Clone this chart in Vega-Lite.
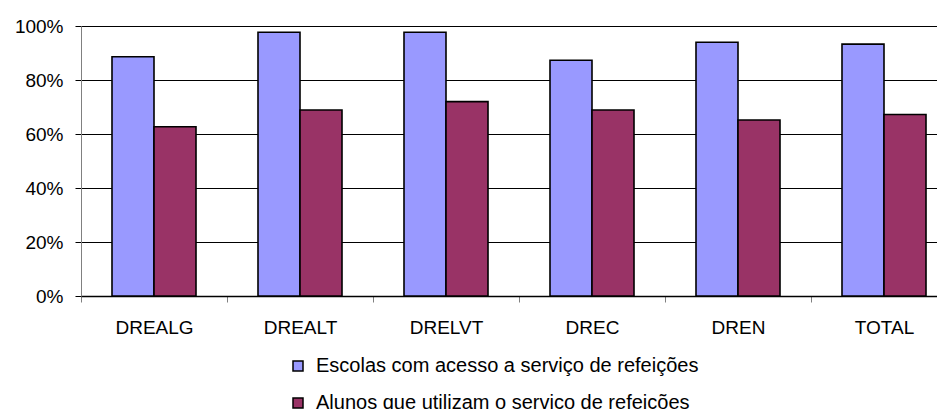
{
  "$schema": "https://vega.github.io/schema/vega-lite/v6.json",
  "autosize": {"type": "none"},
  "width": 856,
  "height": 270,
  "padding": {"left": 81, "top": 26, "right": 0, "bottom": 113},
  "config": {
    "view": {"stroke": null},
    "font": "Liberation Sans"
  },
  "data": {
    "values": [
      {"regiao": "DREALG", "serie": "Escolas com acesso a serviço de refeições", "valor": 0.886},
      {"regiao": "DREALG", "serie": "Alunos que utilizam o serviço de refeições", "valor": 0.627},
      {"regiao": "DREALT", "serie": "Escolas com acesso a serviço de refeições", "valor": 0.977},
      {"regiao": "DREALT", "serie": "Alunos que utilizam o serviço de refeições", "valor": 0.689},
      {"regiao": "DRELVT", "serie": "Escolas com acesso a serviço de refeições", "valor": 0.977},
      {"regiao": "DRELVT", "serie": "Alunos que utilizam o serviço de refeições", "valor": 0.72},
      {"regiao": "DREC", "serie": "Escolas com acesso a serviço de refeições", "valor": 0.873},
      {"regiao": "DREC", "serie": "Alunos que utilizam o serviço de refeições", "valor": 0.689},
      {"regiao": "DREN", "serie": "Escolas com acesso a serviço de refeições", "valor": 0.94},
      {"regiao": "DREN", "serie": "Alunos que utilizam o serviço de refeições", "valor": 0.652},
      {"regiao": "TOTAL", "serie": "Escolas com acesso a serviço de refeições", "valor": 0.933},
      {"regiao": "TOTAL", "serie": "Alunos que utilizam o serviço de refeições", "valor": 0.672}
    ]
  },
  "mark": {"type": "bar", "stroke": "black", "strokeWidth": 1.6},
  "encoding": {
    "x": {
      "field": "regiao",
      "type": "nominal",
      "sort": ["DREALG", "DREALT", "DRELVT", "DREC", "DREN", "TOTAL"],
      "scale": {"range": [0, 876], "paddingInner": 0, "paddingOuter": 0},
      "axis": {
        "title": null,
        "labelAngle": 0,
        "labelFontSize": 19,
        "labelColor": "black",
        "labelPadding": 16,
        "tickBand": "extent",
        "tickSize": 6,
        "tickColor": "#808080",
        "domainColor": "black",
        "domainWidth": 1.5,
        "grid": false
      }
    },
    "xOffset": {
      "field": "serie",
      "type": "nominal",
      "sort": ["Escolas com acesso a serviço de refeições", "Alunos que utilizam o serviço de refeições"],
      "scale": {"paddingInner": 0, "paddingOuter": 0.738}
    },
    "y": {
      "field": "valor",
      "type": "quantitative",
      "scale": {"domain": [0, 1]},
      "axis": {
        "title": null,
        "format": ".0%",
        "values": [0, 0.2, 0.4, 0.6, 0.8, 1],
        "labelFontSize": 19,
        "labelColor": "black",
        "labelPadding": 12,
        "tickSize": 6,
        "tickColor": "black",
        "domainColor": "#808080",
        "grid": true,
        "gridColor": "black",
        "gridOpacity": 1,
        "gridWidth": 1.2
      }
    },
    "color": {
      "field": "serie",
      "type": "nominal",
      "sort": ["Escolas com acesso a serviço de refeições", "Alunos que utilizam o serviço de refeições"],
      "scale": {"range": ["#9999FF", "#993366"]},
      "legend": {
        "title": null,
        "orient": "none",
        "legendX": 207,
        "legendY": 330,
        "direction": "vertical",
        "symbolType": "square",
        "symbolSize": 100,
        "symbolStrokeColor": "black",
        "symbolStrokeWidth": 1.5,
        "symbolOpacity": 1,
        "labelFontSize": 20,
        "labelColor": "black",
        "labelOffset": 8,
        "labelLimit": 600,
        "rowPadding": 17,
        "padding": 0
      }
    }
  }
}
